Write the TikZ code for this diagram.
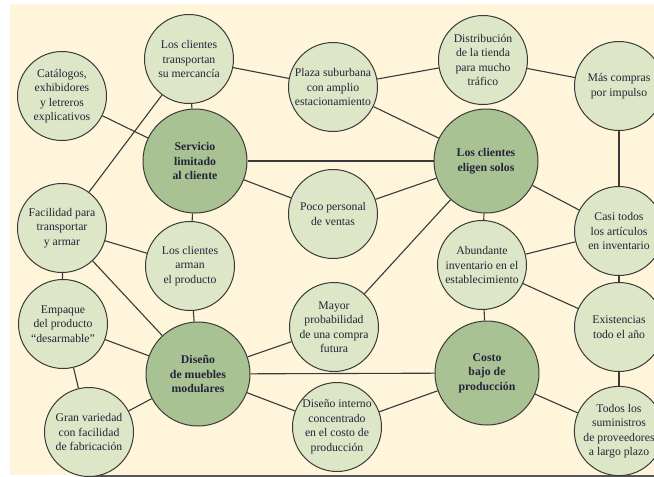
\documentclass[tikz,border=0pt]{standalone}
\usepackage{fontspec}
\setmainfont{Liberation Serif}
\usetikzlibrary{backgrounds}
\definecolor{cream}{HTML}{FEF5DB}
\definecolor{lightc}{HTML}{DDE6C6}
\definecolor{darkc}{HTML}{A9C294}
\definecolor{edgec}{HTML}{3A3A3A}
\definecolor{txtc}{HTML}{24243A}
\tikzset{
  small/.style={circle, draw=edgec, line width=1pt, fill=lightc, minimum size=89pt, inner sep=0pt, align=center, text=txtc, font=\fontsize{11.7}{14.5}\selectfont},
  big/.style={circle, draw=edgec, line width=1pt, fill=darkc, minimum size=104pt, inner sep=0pt, align=center, text=txtc, font=\fontsize{11.8}{14.5}\selectfont\bfseries},
  link/.style={draw=edgec, line width=1.1pt}
}
\begin{document}
\begin{tikzpicture}[x=1pt,y=-1pt]
\useasboundingbox (0,0) rectangle (654,477);
\clip (0,0) rectangle (654,477);
\node[small] (cat) at (62,96) {Catálogos,\\exhibidores\\y letreros\\explicativos};
\node[small] (tra) at (189,59) {Los clientes\\transportan\\su mercancía};
\node[big] (ser) at (195,161) {Servicio\\limitado\\al cliente};
\node[small] (pla) at (333,87) {Plaza suburbana\\con amplio\\estacionamiento};
\node[small] (dis) at (483,60) {Distribución\\de la tienda\\para mucho\\tráfico};
\node[small] (mas) at (619,86) {Más compras\\por impulso};
\node[big] (eli) at (486,161) {Los clientes\\eligen solos};
\node[small] (poc) at (333,214) {Poco personal\\de ventas};
\node[small] (cas) at (619,231) {Casi todos\\los artículos\\en inventario};
\node[small] (fac) at (62,228) {Facilidad para\\transportar\\y armar};
\node[small] (arm) at (190,266) {Los clientes\\arman\\el producto};
\node[small] (abu) at (482,265) {Abundante\\inventario en el\\establecimiento};
\node[small] (emp) at (63,324) {Empaque\\del producto\\“desarmable”};
\node[small] (may) at (334,327) {Mayor\\probabilidad\\de una compra\\futura};
\node[small] (exi) at (619,327) {Existencias\\todo el año};
\node[big] (dmm) at (198,374) {Diseño\\de muebles\\modulares};
\node[big] (cos) at (487,373) {Costo\\bajo de\\producción};
\node[small] (gra) at (89,432) {Gran variedad\\con facilidad\\de fabricación};
\node[small] (din) at (337,427) {Diseño interno\\concentrado\\en el costo de\\producción};
\node[small] (tod) at (619,431) {Todos los\\suministros\\de proveedores\\a largo plazo};
\begin{scope}[on background layer]
  \fill[white] (0,0) rectangle (654,477);
  \fill[cream] (10,4) rectangle (654,474.5);
  \fill[edgec!85] (88,474.5) rectangle (654,477);
  \path[link] (cat) -- (ser);
  \path[link] (tra) -- (ser);
  \path[link] (tra) -- (pla);
  \path[link] (tra) -- (fac);
  \path[link] (ser) -- (eli);
  \path[link] (ser) -- (poc);
  \path[link] (ser) -- (arm);
  \path[link] (pla) -- (dis);
  \path[link] (pla) -- (eli);
  \path[link] (dis) -- (mas);
  \path[link] (mas) -- (cas);
  \path[link] (eli) -- (poc);
  \path[link] (eli) -- (cas);
  \path[link] (eli) -- (abu);
  \path[link] (eli) -- (may);
  \path[link] (fac) -- (arm);
  \path[link] (fac) -- (emp);
  \path[link] (fac) -- (dmm);
  \path[link] (arm) -- (dmm);
  \path[link] (abu) -- (cas);
  \path[link] (abu) -- (exi);
  \path[link] (abu) -- (cos);
  \path[link] (cas) -- (exi);
  \path[link] (emp) -- (dmm);
  \path[link] (emp) -- (gra);
  \path[link] (may) -- (dmm);
  \path[link] (dmm) -- (cos);
  \path[link] (dmm) -- (gra);
  \path[link] (dmm) -- (din);
  \path[link] (cos) -- (din);
  \path[link] (cos) -- (tod);
  \path[link] (exi) -- (tod);
\end{scope}
\end{tikzpicture}
\end{document}
